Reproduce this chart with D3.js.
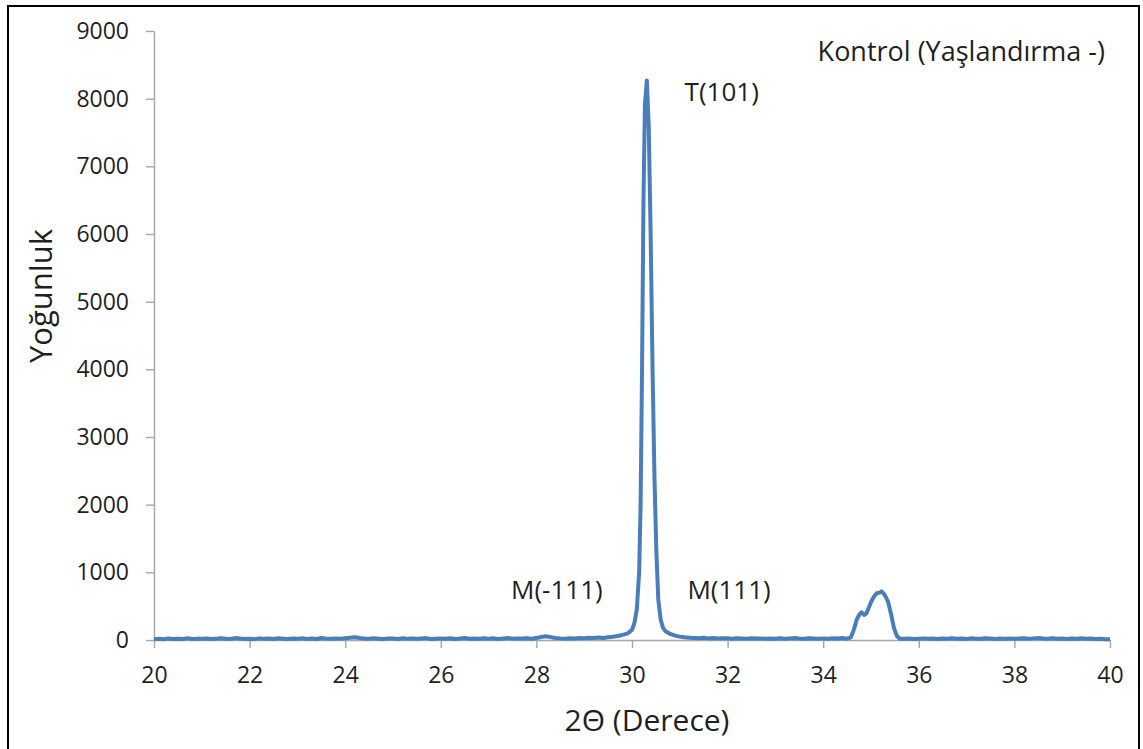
<!DOCTYPE html>
<html>
<head>
<meta charset="utf-8">
<script src="https://cdn.jsdelivr.net/npm/d3@7"></script>
<style>
    body { margin: 0; background: #fff; }
    text { font-family: "Open Sans", sans-serif; fill: #1f1f1f; }
</style>
</head>
<body>
<div id="xrd-area"></div>
<script>
// tick labels
const xTicks = [20, 22, 24, 26, 28, 30, 32, 34, 36, 38, 40];
const yTicks = [0, 1000, 2000, 3000, 4000, 5000, 6000, 7000, 8000, 9000];

// peak labels [2theta, intensity, text]
const peakLabels = [
    [31.10, 7970, "T(101)"],
    [27.47, 600, "M(-111)"],
    [31.16, 600, "M(111)"]
];

// 2theta (degree), intensity
const scan = [
    [20.0,10],[20.1,18],[20.2,12],[20.3,22],[20.4,15],[20.5,20],[20.6,14],[20.7,25],[20.8,16],[20.9,19],
    [21.0,17],[21.1,23],[21.2,14],[21.3,20],[21.4,26],[21.5,18],[21.6,15],[21.7,28],[21.8,21],[21.9,16],
    [22.0,19],[22.1,13],[22.2,24],[22.3,17],[22.4,22],[22.5,15],[22.6,27],[22.7,20],[22.8,14],[22.9,23],
    [23.0,18],[23.1,25],[23.2,16],[23.3,21],[23.4,14],[23.5,29],[23.6,22],[23.7,17],[23.8,24],[23.9,19],
    [24.0,26],[24.1,33],[24.2,40],[24.3,30],[24.4,22],[24.5,18],[24.6,25],[24.7,20],[24.8,16],[24.9,23],
    [25.0,21],[25.1,15],[25.2,27],[25.3,19],[25.4,24],[25.5,17],[25.6,22],[25.7,28],[25.8,16],[25.9,20],
    [26.0,24],[26.1,18],[26.2,26],[26.3,15],[26.4,21],[26.5,29],[26.6,19],[26.7,23],[26.8,17],[26.9,25],
    [27.0,20],[27.1,27],[27.2,16],[27.3,22],[27.4,30],[27.5,18],[27.6,24],[27.7,21],[27.8,26],[27.9,19],
    [28.0,28],[28.1,45],[28.2,55],[28.3,42],[28.4,30],[28.5,24],[28.6,20],[28.7,27],[28.8,22],[28.9,31],
    [29.0,26],[29.1,33],[29.2,28],[29.3,36],[29.4,31],[29.5,40],[29.6,48],[29.7,60],[29.8,75],[29.9,95],
    [29.95,120],[30.0,150],[30.05,250],[30.10,450],[30.15,1000],[30.18,2000],[30.21,4000],[30.24,6500],
    [30.27,7900],[30.31,8270],[30.35,7600],[30.39,6000],[30.43,4000],[30.47,2400],[30.51,1300],[30.55,600],
    [30.60,300],[30.65,180],[30.7,130],[30.8,90],[30.9,65],[31.0,50],[31.1,40],[31.2,35],
    [31.3,30],[31.4,26],[31.5,33],[31.6,24],[31.7,28],[31.8,22],[31.9,27],
    [32.0,25],[32.1,19],[32.2,27],[32.3,22],[32.4,18],[32.5,26],[32.6,21],[32.7,24],[32.8,17],[32.9,23],
    [33.0,20],[33.1,26],[33.2,18],[33.3,24],[33.4,29],[33.5,21],[33.6,17],[33.7,25],[33.8,22],[33.9,19],
    [34.0,24],[34.1,20],[34.2,27],[34.3,23],[34.4,30],
    [34.50,20],[34.58,40],[34.64,150],[34.70,300],[34.76,380],[34.80,410],[34.86,370],[34.90,390],
    [34.95,470],[35.00,560],[35.06,640],[35.12,690],[35.18,700],[35.22,720],[35.26,690],[35.30,650],
    [35.36,560],[35.42,380],[35.48,180],[35.54,60],[35.60,20],
    [35.7,18],[35.8,22],[35.9,15],
    [36.0,20],[36.1,24],[36.2,17],[36.3,21],[36.4,15],[36.5,23],[36.6,19],[36.7,26],[36.8,18],[36.9,22],
    [37.0,16],[37.1,25],[37.2,20],[37.3,18],[37.4,27],[37.5,21],[37.6,15],[37.7,23],[37.8,19],[37.9,24],
    [38.0,17],[38.1,22],[38.2,26],[38.3,19],[38.4,24],[38.5,30],[38.6,21],[38.7,18],[38.8,25],[38.9,20],
    [39.0,23],[39.1,16],[39.2,22],[39.3,19],[39.4,25],[39.5,17],[39.6,21],[39.7,14],[39.8,18],[39.9,12],
    [40.0,10]
];

const xrdChart = () => {
    let width = 1143;
    let height = 749;

    let svg = d3.select("#xrd-area")
        .append("svg")
        .attr("width", width)
        .attr("height", height);

    // frame round the picture
    svg.append("rect")
        .attr("x", 8)
        .attr("y", 6)
        .attr("width", 1131)
        .attr("height", 760)
        .attr("fill", "none")
        .attr("stroke", "#000")
        .attr("stroke-width", 2);

    let xScale = d3.scaleLinear()
        .domain([20, 40])
        .range([154, 1110]);

    let yScale = d3.scaleLinear()
        .domain([0, 9000])
        .range([640, 31]);

    let xAxis = d3.axisBottom(xScale)
        .tickValues(xTicks)
        .tickSize(8)
        .tickSizeOuter(0)
        .tickPadding(19)
        .tickFormat(d3.format("d"));

    let yAxis = d3.axisLeft(yScale)
        .tickValues(yTicks)
        .tickSize(8)
        .tickSizeOuter(0)
        .tickPadding(17)
        .tickFormat(d3.format("d"));

    //x axis
    let gx = svg.append("g")
        .attr("transform", "translate(0," + yScale(0) + ")")
        .call(xAxis);

    //y axis
    let gy = svg.append("g")
        .attr("transform", "translate(" + xScale(20) + ",0)")
        .call(yAxis);

    [gx, gy].forEach((g) => {
        g.select(".domain").attr("stroke", "#a6a6a6").attr("stroke-width", 1.4);
        g.selectAll(".tick line").attr("stroke", "#a6a6a6").attr("stroke-width", 1.4);
        g.selectAll(".tick text")
            .attr("font-family", "Open Sans")
            .attr("font-size", "23px")
            .attr("fill", "#1f1f1f");
    });

    let line = d3.line()
        .x(function (d) { return xScale(d[0]); })
        .y(function (d) { return yScale(d[1]); });

    svg.append("path")
        .datum(scan)
        .attr("d", line)
        .attr("fill", "none")
        .attr("stroke", "#4a7ebb")
        .attr("stroke-width", 4)
        .attr("stroke-linejoin", "round");

    // peak names
    svg.selectAll(".peak")
        .data(peakLabels)
        .enter()
        .append("text")
        .attr("class", "peak")
        .attr("x", function (d) { return xScale(d[0]); })
        .attr("y", function (d) { return yScale(d[1]); })
        .attr("font-size", "26px")
        .text(function (d) { return d[2]; });

    svg.append("text")
        .attr("x", 1105)
        .attr("y", 61)
        .attr("text-anchor", "end")
        .attr("font-size", "27px")
        .text("Kontrol (Yaşlandırma -)");

    // X Label
    svg.append("text")
        .attr("x", 647)
        .attr("y", 731)
        .attr("text-anchor", "middle")
        .attr("font-size", "30px")
        .text("2Θ (Derece)");

    // Y Label
    svg.append("text")
        .attr("transform", "rotate(-90)")
        .attr("x", -296)
        .attr("y", 52)
        .attr("text-anchor", "middle")
        .attr("font-size", "31px")
        .text("Yoğunluk");
};
xrdChart();
</script>
</body>
</html>
